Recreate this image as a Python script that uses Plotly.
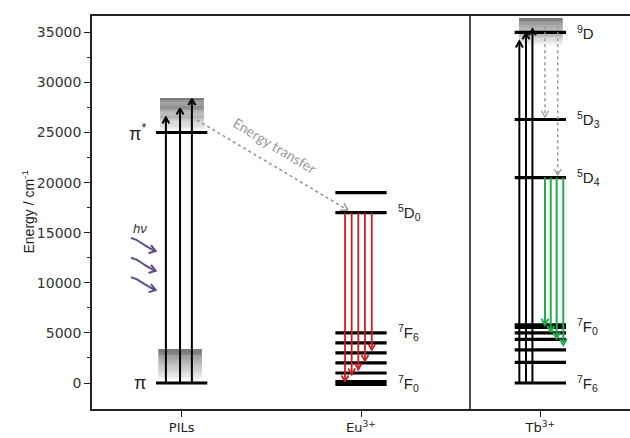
import math
import plotly.graph_objects as go

# ---------------- data ----------------
categories = ["PILs", "Eu<sup>3+</sup>", "Tb<sup>3+</sup>"]
cat_x = [1, 2, 3]
y_ticks = [0, 5000, 10000, 15000, 20000, 25000, 30000, 35000]
y_tick_text = ["0", "5000", "10000", "15000", "20000", "25000", "30000", "35000"]

# energy levels (cm-1)
pil_levels = [0, 25000]
pil_labels = ["π", "π<sup>*</sup>"]
pil_label_y = [0, 25000]

eu_levels = [1000, 2000, 3000, 4000, 5000, 17000, 19000]
eu_ground = [0]
eu_labels = ["<sup>7</sup>F<sub>0</sub>", "<sup>7</sup>F<sub>6</sub>", "<sup>5</sup>D<sub>0</sub>"]
eu_label_y = [0, 5000, 17000]

tb_levels = [0, 2050, 3300, 4350, 5000, 5550, 5800, 20500, 26300, 35000]
tb_labels = ["<sup>7</sup>F<sub>6</sub>", "<sup>7</sup>F<sub>0</sub>", "<sup>5</sup>D<sub>4</sub>",
             "<sup>5</sup>D<sub>3</sub>", "<sup>9</sup>D"]
tb_label_y = [0, 5600, 20500, 26300, 35000]

# excitation (PILs)
pil_exc_off = [-0.088, -0.009, 0.057]
pil_exc_start = [0, 0, 0]
pil_exc_end = [26500, 27400, 28350]

# excitation (Tb)
tb_exc_off = [-0.117, -0.080, -0.044]
tb_exc_start = [0, 0, 0]
tb_exc_end = [34100, 34900, 35300]

# Eu emission 5D0 -> 7FJ
eu_em_off = [-0.089, -0.052, -0.015, 0.022, 0.060]
eu_em_start = [17000, 17000, 17000, 17000, 17000]
eu_em_end = [150, 850, 1350, 2200, 3300]

# Tb emission 5D4 -> 7FJ
tb_em_off = [0.026, 0.058, 0.091, 0.128]
tb_em_start = [20500, 20500, 20500, 20500]
tb_em_end = [5800, 5100, 4450, 3800]

# Tb non-radiative relaxation
tb_rel_off = [0.026, 0.097]
tb_rel_start = [35600, 35600]
tb_rel_end = [26550, 20750]

# energy transfer PILs -> Eu
et_x = [1.085, 1.927]
et_y = [26250, 17250]

# shaded bands (category index, x offsets, y top/bottom)
band_cat = [0, 0, 2]
band_x0 = [-0.121, -0.130, -0.119]
band_x1 = [0.124, 0.113, 0.125]
band_top = [28450, 3400, 36420]
band_bot = [25100, 300, 33600]

# h-nu photons
hv_x0 = [0.717, 0.717, 0.717]
hv_x1 = [0.855, 0.855, 0.855]
hv_y0 = [14470, 12500, 10550]
hv_y1 = [13170, 11200, 9280]

# ---------------- geometry ----------------
W, H = 630, 438
ML, MR, MT, MB = 92, 0, 16, 29
XR = [0.5, 3.5]
YR = [-2595, 36627]
PW, PH = W - ML - MR, H - MT - MB
sx = PW / (XR[1] - XR[0])
sy = PH / (YR[1] - YR[0])
HW = 0.143
SEP_X = 2.608

fig = go.Figure()


def add_line(xs, ys, color, width, dash="solid"):
    fig.add_trace(go.Scatter(x=xs, y=ys, mode="lines", hoverinfo="skip", showlegend=False,
                             line=dict(color=color, width=width, dash=dash)))


def levels(center, vals):
    xs, ys = [], []
    for v in vals:
        xs += [center - HW, center + HW, None]
        ys += [v, v, None]
    return xs, ys


def head(xt, yt, dx, dy, L=7.0, ang=30.0):
    n = math.hypot(dx, dy)
    bx, by = -dx / n, -dy / n
    xs, ys = [], []
    for s in (1, -1):
        a = math.radians(ang) * s
        rx = bx * math.cos(a) - by * math.sin(a)
        ry = bx * math.sin(a) + by * math.cos(a)
        xs.append(xt + L * rx / sx)
        ys.append(yt + L * ry / sy)
    return [xs[0], xt, xs[1], None], [ys[0], yt, ys[1], None]


def arrows(center, offs, starts, ends, color, width, dash="solid", L=7.0):
    sxs, sys_, hxs, hys = [], [], [], []
    for o, a, b in zip(offs, starts, ends):
        x = center + o
        sxs += [x, x, None]
        sys_ += [a, b, None]
        hx, hy = head(x, b, 0, 1 if b > a else -1, L=L)
        hxs += hx
        hys += hy
    add_line(sxs, sys_, color, width, dash)
    add_line(hxs, hys, color, width if dash == "solid" else 1.3)


# shaded gradient bands
def mix(c1, c2, t):
    return "rgb(%d,%d,%d)" % tuple(round(a + (b - a) * t) for a, b in zip(c1, c2))


dark = (122, 122, 122)
light = (250, 252, 255)
NS = 30
for ci, x0, x1, yt, yb in zip(band_cat, band_x0, band_x1, band_top, band_bot):
    c = cat_x[ci]
    for i in range(NS):
        t0 = i / NS
        t1 = (i + 1) / NS
        col = mix(dark, light, ((t0 + t1) / 2) ** 1.4)
        fig.add_shape(type="rect", xref="x", yref="y", layer="below",
                      x0=c + x0, x1=c + x1,
                      y0=yt - (yt - yb) * t0, y1=yt - (yt - yb) * t1 - 1,
                      line=dict(width=0), fillcolor=col)

# energy levels
xs, ys = levels(cat_x[0], pil_levels)
add_line(xs, ys, "black", 3.2)
xs, ys = levels(cat_x[1], eu_levels)
add_line(xs, ys, "black", 3.2)
xs, ys = levels(cat_x[1], eu_ground)
add_line(xs, ys, "black", 6)
xs, ys = levels(cat_x[2], tb_levels)
add_line(xs, ys, "black", 3.2)

# transitions
arrows(cat_x[0], pil_exc_off, pil_exc_start, pil_exc_end, "black", 2)
arrows(cat_x[2], tb_exc_off, tb_exc_start, tb_exc_end, "black", 2)
arrows(cat_x[1], eu_em_off, eu_em_start, eu_em_end, "#cc1e1e", 1.8)
arrows(cat_x[2], tb_em_off, tb_em_start, tb_em_end, "#1fae4b", 2)
arrows(cat_x[2], tb_rel_off, tb_rel_start, tb_rel_end, "#9a9a9a", 1.5, dash="dot")

# energy transfer
add_line(et_x, et_y, "#8f8f8f", 1.5, dash="dot")
dxp = (et_x[1] - et_x[0]) * sx
dyp = (et_y[1] - et_y[0]) * sy
hx, hy = head(et_x[1], et_y[1], dxp, dyp, L=8)
add_line(hx, hy, "#8f8f8f", 1.3)

# photons
N = 30
for x0, x1, y0, y1 in zip(hv_x0, hv_x1, hv_y0, hv_y1):
    px, py = [], []
    for i in range(N + 1):
        t = i / N
        u = 0.05 + 0.85 * t
        s = (3 * u ** 2 - 2 * u ** 3)
        s0 = 3 * 0.05 ** 2 - 2 * 0.05 ** 3
        s1 = 3 * 0.9 ** 2 - 2 * 0.9 ** 3
        px.append(x0 + (x1 - x0) * t)
        py.append(y0 + (y1 - y0) * (s - s0) / (s1 - s0))
    add_line(px, py, "#5f4b8b", 2)
    hx, hy = head(px[-1], py[-1], (px[-1] - px[-3]) * sx, (py[-1] - py[-3]) * sy, L=7.5, ang=35)
    add_line(hx, hy, "#5f4b8b", 2)

# labels
ann = []
for t, y in zip(pil_labels, pil_label_y):
    ann.append(dict(x=cat_x[0] - 0.19, y=y, text=t, xanchor="right", yanchor="middle",
                    showarrow=False, font=dict(family="Liberation Sans", size=18, color="#222")))
for t, y in zip(eu_labels, eu_label_y):
    ann.append(dict(x=cat_x[1] + 0.195, y=y, text=t, xanchor="left", yanchor="middle",
                    showarrow=False, font=dict(family="Liberation Sans", size=15, color="#222")))
for t, y in zip(tb_labels, tb_label_y):
    ann.append(dict(x=cat_x[2] + 0.195, y=y, text=t, xanchor="left", yanchor="middle",
                    showarrow=False, font=dict(family="Liberation Sans", size=15, color="#222")))
ann.append(dict(x=0.765, y=15450, text="<i>hν</i>", showarrow=False,
                font=dict(family="Liberation Sans", size=13, color="#333")))
ann.append(dict(x=1.52, y=23750, text="Energy transfer", showarrow=False, textangle=31,
                font=dict(family="Lato", size=14, color="#9a9a9a")))
ann.append(dict(x=(17 - ML) / PW, xref="paper", y=0.5, yref="paper", yanchor="middle",
                text="Energy / cm<sup>-1</sup>", textangle=-90, showarrow=False,
                font=dict(family="Liberation Sans", size=14, color="#222")))

# panel separator
fig.add_shape(type="line", xref="x", yref="paper", x0=SEP_X, x1=SEP_X, y0=0, y1=1,
              line=dict(color="#222", width=1.6))

fig.update_layout(
    width=W, height=H, margin=dict(l=ML, r=MR, t=MT, b=MB),
    paper_bgcolor="white", plot_bgcolor="white", showlegend=False,
    annotations=ann,
    xaxis=dict(range=XR, tickvals=cat_x, ticktext=categories, showgrid=False, zeroline=False,
               showline=True, linecolor="#222", linewidth=1.6, mirror=True,
               ticks="outside", ticklen=6, tickwidth=1.3, tickcolor="#222",
               tickfont=dict(family="DejaVu Sans", size=13, color="#222")),
    yaxis=dict(range=YR, tickvals=y_ticks, ticktext=y_tick_text, showgrid=False, zeroline=False,
               showline=True, linecolor="#222", linewidth=1.6,
               ticks="outside", ticklen=6, tickwidth=1.2, tickcolor="#222",
               tickfont=dict(family="DejaVu Sans", size=14, color="#333"),
               minor=dict(tickvals=[2500, 7500, 12500, 17500, 22500, 27500, 32500],
                          ticks="outside", ticklen=3, tickwidth=1, tickcolor="#222")),
)

fig.write_html("out.html")
